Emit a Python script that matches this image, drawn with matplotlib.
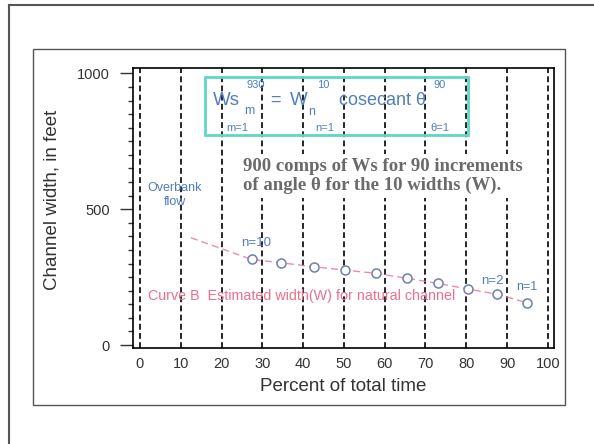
import matplotlib.pyplot as plt
from matplotlib.patches import Rectangle
from matplotlib.lines import Line2D

# data
pct_time = [27.4, 34.6, 42.6, 50.2, 57.8, 65.4, 73.0, 80.5, 87.6, 94.8]
width_ft = [315, 303, 288, 276, 264, 246, 227, 206, 187, 156]
curve_x = [12.5] + pct_time          # pink curve B starts up in the overbank zone
curve_y = [395] + width_ft
grid_x = [0, 10, 20, 30, 40, 50, 60, 70, 80, 90, 100]
x_ticks = [0, 10, 20, 30, 40, 50, 60, 70, 80, 90, 100]
y_ticks = [0, 500, 1000]

blue = '#4f7fbf'
pink = '#ec6f8e'
teal = '#5fd6c6'
plt.rcParams['font.family'] = ['Liberation Sans', 'DejaVu Sans']

fig = plt.figure(figsize=(5.94, 4.44), dpi=100)
ax = fig.add_axes([133 / 594, 1 - 348.3 / 444, (554 - 133) / 594, (348.3 - 68) / 444])
ax.set_xlim(-1.7, 101.5)
ax.set_ylim(-12, 1020)

for gx in grid_x:
    ax.axvline(gx, color='black', lw=1.2, linestyle=(0, (3.5, 2)), zorder=1)

ax.plot(curve_x, curve_y, color=pink, lw=1, linestyle=(0, (5, 3)), alpha=0.8, zorder=2)
ax.plot(pct_time, width_ft, linestyle='none', marker='o', ms=6.5, mfc='white',
        mec='#6f7fb0', mew=1.1, zorder=3)

ax.set_xticks(x_ticks)
ax.set_yticks(y_ticks)
ax.set_yticks(range(0, 1001, 50), minor=True)
ax.tick_params(axis='x', length=0, pad=6, labelsize=10.5, colors='#333333')
ax.tick_params(axis='y', which='major', length=9.5, width=1, pad=7, labelsize=10.5, colors='#333333')
ax.tick_params(axis='y', which='minor', length=3.5, width=1, color='#333333')
for s in ax.spines.values():
    s.set_linewidth(1.2)

# equation box
ax.add_patch(Rectangle((15.9, 773), 64.5, 213, fill=False, ec=teal, lw=2, zorder=4))
ax.text(21.1, 902, 'Ws', color=blue, fontsize=13.5, ha='center', va='center', zorder=5)
ax.text(26.8, 862, 'm', color=blue, fontsize=9, ha='center', va='center', zorder=5)
ax.text(28.4, 957, '930', color=blue, fontsize=8, ha='center', va='center', zorder=5)
ax.text(23.9, 799, 'm=1', color=blue, fontsize=8, ha='center', va='center', zorder=5)
ax.text(33.1, 900, '=', color=blue, fontsize=13, ha='center', va='center', zorder=5)
ax.text(39.0, 902, 'W', color=blue, fontsize=13.5, ha='center', va='center', zorder=5)
ax.text(42.0, 859, 'n', color=blue, fontsize=9, ha='center', va='center', zorder=5)
ax.text(44.9, 957, '10', color=blue, fontsize=8, ha='center', va='center', zorder=5)
ax.text(45.3, 799, 'n=1', color=blue, fontsize=8, ha='center', va='center', zorder=5)
ax.text(59.4, 900, 'cosecant θ', color=blue, fontsize=13, ha='center', va='center', zorder=5)
ax.text(73.5, 957, '90', color=blue, fontsize=8, ha='center', va='center', zorder=5)
ax.text(73.5, 799, 'θ=1', color=blue, fontsize=8, ha='center', va='center', zorder=5)

ax.text(25.2, 622, '900 comps of Ws for 90 increments\nof angle θ for the 10 widths (W).',
        family=['Liberation Serif', 'DejaVu Serif'], fontweight='bold', fontsize=13.5,
        color='#6a6a6a', ha='left', va='center', linespacing=1.15, zorder=5,
        bbox=dict(fc='white', ec='none', pad=3))

ax.text(8.5, 551, 'Overbank\nflow', color=blue, fontsize=9, ha='center', va='center',
        linespacing=1.2, zorder=5)
ax.text(28.4, 375, 'n=10', color=blue, fontsize=9.5, ha='center', va='center', zorder=5)
ax.text(86.5, 235, 'n=2', color=blue, fontsize=9.5, ha='center', va='center', zorder=5)
ax.text(94.9, 213, 'n=1', color=blue, fontsize=9, ha='center', va='center', zorder=5)
ax.text(2.0, 180, 'Curve B  Estimated width(W) for natural channel', color=pink,
        fontsize=10.3, ha='left', va='center', zorder=5)

fig.text(52 / 594, 1 - 200 / 444, 'Channel width, in feet', rotation=90, fontsize=13.5,
         color='#333333', ha='center', va='center')
fig.text(343 / 594, 1 - 386 / 444, 'Percent of total time', fontsize=13.5,
         color='#333333', ha='center', va='center')

# scanned page frames
fig.add_artist(Rectangle((33 / 594, 1 - 405 / 444), 532 / 594, 356 / 444,
                         transform=fig.transFigure, fill=False, ec='#555555', lw=1))
fig.add_artist(Line2D([9 / 594, 9 / 594], [0, 1 - 5 / 444], transform=fig.transFigure,
                      color='#555555', lw=1.5))
fig.add_artist(Line2D([9 / 594, 1], [1 - 5 / 444, 1 - 5 / 444], transform=fig.transFigure,
                      color='#555555', lw=1.5))

fig.savefig('out.png', dpi=100)
